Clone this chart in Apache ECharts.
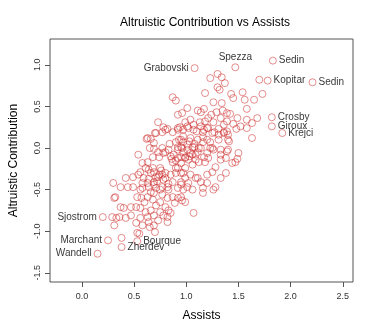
<!DOCTYPE html>
<html>
<head>
<meta charset="utf-8">
<script src="https://cdn.jsdelivr.net/npm/echarts@6/dist/echarts.min.js"></script>
<style>
  html, body { margin: 0; padding: 0; background: #fff; }
  #main { width: 374px; height: 332px; }
</style>
</head>
<body>
<div id="main"></div>
<script>
// assists, altruistic contribution
const points = [
  [1.30,0.89],[1.34,0.85],[1.23,0.84],[1.37,0.78],[1.30,0.73],[1.32,0.70],[1.18,0.66],[0.87,0.61],
  [0.90,0.57],[1.43,0.65],[1.45,0.60],[1.54,0.67],[1.56,0.58],[1.26,0.55],[1.34,0.54],[1.01,0.48],
  [1.11,0.45],[1.14,0.43],[1.29,0.43],[1.39,0.42],[0.96,0.42],[0.92,0.40],[1.49,0.36],[1.58,0.47],
  [1.58,0.34],[0.73,0.31],[1.21,0.36],[1.18,0.32],[1.13,0.31],[1.04,0.34],[0.99,0.31],[1.26,0.31],
  [1.33,0.36],[1.39,0.32],[1.45,0.29],[1.52,0.26],[1.58,0.24],[1.48,0.23],[0.70,0.18],[0.77,0.19],
  [0.82,0.23],[0.92,0.22],[0.94,0.25],[1.01,0.26],[1.07,0.28],[1.14,0.26],[1.17,0.22],[1.21,0.24],
  [1.27,0.19],[1.31,0.23],[1.36,0.18],[1.40,0.10],[1.31,0.10],[1.23,0.07],[1.16,0.13],[1.11,0.10],
  [1.04,0.12],[0.97,0.14],[0.95,0.10],[0.90,0.07],[1.01,0.04],[1.08,0.01],[1.14,0.00],[1.23,0.00],
  [0.62,0.11],[0.65,0.00],[0.69,-0.01],[0.54,-0.08],[0.58,-0.18],[0.74,-0.11],[0.78,-0.06],[0.83,-0.02],
  [0.85,-0.10],[0.92,-0.02],[0.95,0.01],[0.97,-0.05],[0.99,-0.11],[0.92,-0.12],[0.87,-0.17],[0.95,-0.18],
  [1.02,-0.14],[1.06,-0.08],[1.11,-0.05],[1.17,-0.11],[1.20,-0.06],[1.26,-0.02],[1.18,-0.17],[1.12,-0.17],
  [1.33,-0.14],[1.44,-0.18],[1.47,-0.17],[1.40,-0.02],[1.50,-0.06],[1.33,-0.02],[1.06,-0.20],[0.99,-0.24],
  [0.92,-0.24],[0.68,-0.24],[0.69,-0.29],[0.71,-0.35],[0.74,-0.32],[0.80,-0.30],[0.85,-0.32],[0.90,-0.30],
  [0.97,-0.30],[1.04,-0.32],[1.11,-0.36],[1.14,-0.41],[1.20,-0.42],[1.28,-0.47],[1.02,-0.42],[0.95,-0.41],
  [0.87,-0.41],[0.78,-0.38],[0.69,-0.41],[0.59,-0.36],[0.54,-0.32],[0.49,-0.35],[0.42,-0.36],[0.30,-0.42],
  [0.37,-0.47],[0.44,-0.47],[0.49,-0.47],[0.56,-0.50],[0.64,-0.47],[0.71,-0.48],[0.77,-0.47],[0.83,-0.50],
  [0.92,-0.48],[0.97,-0.50],[1.06,-0.50],[0.77,-0.56],[0.69,-0.54],[0.63,-0.59],[0.53,-0.59],[0.32,-0.59],
  [0.95,-0.59],[0.87,-0.59],
  // dense middle
  [0.71,0.18],[0.66,0.11],[0.63,0.12],[0.69,0.06],[0.80,0.22],[0.78,0.25],[0.87,0.19],[0.92,0.24],
  [0.97,0.22],[1.02,0.24],[1.07,0.22],[1.16,0.19],[1.20,0.24],[1.25,0.18],[1.31,0.16],[1.36,0.19],
  [1.40,0.16],[0.93,0.10],[0.97,0.07],[0.92,0.01],[0.96,0.00],[1.01,-0.02],[1.06,0.01],[1.04,-0.06],
  [1.09,-0.08],[1.12,0.00],[1.16,0.07],[1.20,0.10],[1.25,0.00],[1.33,-0.08],[1.38,-0.12],[1.21,-0.12],
  [0.99,-0.12],[0.95,-0.11],[0.88,-0.08],[0.80,-0.05],[0.77,0.00],[0.73,-0.05],[0.68,-0.11],[0.63,-0.17],
  [0.61,-0.24],[0.75,-0.24],[0.77,-0.32],[0.73,-0.35],[0.80,-0.36],[0.90,-0.24],[0.95,-0.30],[0.99,-0.36],
  [1.09,-0.36],[1.20,-0.32],[1.25,-0.29],[1.28,-0.23],[1.16,-0.48],[1.01,-0.47],[0.95,-0.44],[0.82,-0.47],
  [0.75,-0.50],[0.69,-0.44],[0.63,-0.42],[0.58,-0.48],[0.66,-0.53],[1.33,-0.36],[1.38,-0.30],
  [0.84,0.05],[1.03,0.08],[1.08,0.05],[0.86,-0.13],[1.03,-0.10],[1.09,-0.14],[0.90,-0.15],
  [0.66,-0.30],[0.72,-0.40],[0.83,-0.43],[0.76,-0.27],[0.64,-0.37],[0.60,-0.65],[0.68,-0.62],
  [0.57,-0.60],[1.24,0.40],[1.17,0.47],[1.36,0.28],[1.10,0.20],
  // right side
  [1.70,0.82],[1.73,0.65],[1.65,0.58],[1.68,0.36],[1.63,0.30],[1.42,0.41],[1.35,0.45],[1.63,0.12],
  [1.41,0.08],[1.39,-0.04],[1.49,-0.13],[1.39,0.20],
  // lower left
  [0.31,-0.60],[0.37,-0.71],[0.40,-0.72],[0.47,-0.71],[0.52,-0.71],[0.56,-0.72],[0.61,-0.77],[0.66,-0.75],
  [0.71,-0.69],[0.75,-0.65],[0.82,-0.60],[0.80,-0.71],[0.75,-0.77],[0.69,-0.81],[0.63,-0.83],[0.56,-0.84],
  [0.52,-0.90],[0.64,-0.89],[0.73,-0.87],[0.78,-0.81],[0.29,-0.83],[0.33,-0.84],[0.36,-0.83],[0.42,-0.84],
  [0.31,-0.93],[0.47,-0.81],[0.82,-0.89],[0.56,-0.29],[0.58,-0.42],[0.64,-0.26],
  [0.92,-0.60],[0.96,-0.63],[0.99,-0.65],[0.89,-0.66],[0.83,-0.75],[0.85,-0.78],[0.82,-0.83],[1.07,-0.78],
  [1.16,-0.54],[1.26,-0.50],
  [0.38,-1.08],[0.53,-1.02],[0.55,-1.03],[0.70,-1.01],[0.65,-0.95],[0.58,-0.93],[0.69,-0.93]
];

// labelled players
const labelNames   = ['Grabovski', 'Spezza', 'Sedin', 'Kopitar', 'Sedin', 'Crosby', 'Giroux', 'Krejci', 'Sjostrom', 'Marchant', 'Wandell', 'Zherdev', 'Bourque'];
const labelAssists = [1.08, 1.47, 1.83, 1.78, 2.21, 1.82, 1.82, 1.92, 0.20, 0.25, 0.15, 0.38, 0.53];
const labelContrib = [0.96, 0.97, 1.05, 0.81, 0.79, 0.37, 0.26, 0.18, -0.83, -1.11, -1.27, -1.19, -1.12];

const xTicks = [0, 0.5, 1, 1.5, 2, 2.5];
const yTicks = [-1.5, -1, -0.5, 0, 0.5, 1];

const font = 'Liberation Sans, Arial, Helvetica, sans-serif';
const pointColor = 'rgba(205, 45, 45, 0.75)';
const leftSide = ['Grabovski', 'Sjostrom', 'Marchant', 'Wandell'];

const labelled = labelNames.map(function (n, i) {
  let pos = leftSide.indexOf(n) !== -1 ? 'left' : 'right';
  if (n === 'Spezza') pos = 'top';
  return {
    name: n,
    value: [labelAssists[i], labelContrib[i]],
    label: { show: true, position: pos, distance: pos === 'top' ? 1 : 2 }
  };
});

const ringStyle = { color: 'rgba(0,0,0,0)', borderColor: pointColor, borderWidth: 0.9 };

var chart = echarts.init(document.getElementById('main'));
var option = {
  animation: false,
  title: {
    text: 'Altruistic Contribution vs Assists',
    left: 115,
    top: 12,
    textStyle: { fontFamily: font, fontSize: 12, fontWeight: 'normal', color: '#000' }
  },
  grid: {
    left: 49, right: 21, top: 39, bottom: 50,
    show: true, borderColor: '#555', borderWidth: 1
  },
  xAxis: {
    type: 'value',
    min: -0.306, max: 2.598,
    name: 'Assists',
    nameLocation: 'middle',
    nameGap: 28,
    nameTextStyle: { fontFamily: font, fontSize: 12, color: '#000' },
    axisLine: { show: false, onZero: false },
    splitLine: { show: false },
    axisTick: { show: true, customValues: xTicks, length: 5, lineStyle: { color: '#555' } },
    axisLabel: {
      customValues: xTicks, margin: 10,
      fontFamily: font, fontSize: 9, color: '#333',
      formatter: function (v) { return v.toFixed(1); }
    }
  },
  yAxis: {
    type: 'value',
    min: -1.61, max: 1.31,
    name: 'Altruistic Contribution',
    nameLocation: 'middle',
    nameGap: 30,
    nameTextStyle: { fontFamily: font, fontSize: 12, color: '#000' },
    axisLine: { show: false, onZero: false },
    splitLine: { show: false },
    axisTick: { show: true, customValues: yTicks, length: 5, lineStyle: { color: '#555' } },
    axisLabel: {
      customValues: yTicks, rotate: 90, margin: 8,
      fontFamily: font, fontSize: 9, color: '#333',
      formatter: function (v) { return v.toFixed(1); }
    }
  },
  series: [
    {
      type: 'scatter',
      data: points,
      symbol: 'circle',
      symbolSize: 7,
      itemStyle: ringStyle
    },
    {
      type: 'scatter',
      data: labelled,
      symbol: 'circle',
      symbolSize: 7,
      itemStyle: ringStyle,
      label: {
        show: true,
        formatter: '{b}',
        fontFamily: font, fontSize: 10, color: '#000'
      }
    }
  ]
};
chart.setOption(option);
</script>
</body>
</html>
